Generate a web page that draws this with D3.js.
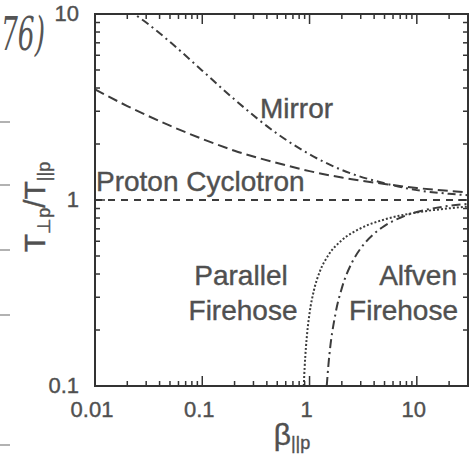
<!DOCTYPE html>
<html lang="en">
  <head>
    <meta charset="UTF-8" />
    <title>Proton temperature anisotropy thresholds</title>
    <script src="https://cdnjs.cloudflare.com/ajax/libs/d3/7.8.5/d3.min.js"></script>
    <style>
      body {
        margin: 0;
        background: #fff;
      }
      svg {
        display: block;
        font-family: "Liberation Sans", Arial, sans-serif;
      }
      .tick-label {
        fill: #505050;
        stroke: #505050;
        stroke-width: 0.4px;
        font-size: 22px;
      }
      .note {
        fill: #505050;
        stroke: #505050;
        stroke-width: 0.4px;
        font-size: 28px;
      }
      .title {
        fill: #505050;
        stroke: #505050;
        stroke-width: 0.4px;
      }
      .curve {
        fill: none;
        stroke: #3c3c3c;
        stroke-width: 2;
      }
    </style>
  </head>
  <body>
    <svg width="475" height="465"></svg>
    <script>
      // axis decades
      const xTickValues = [0.01, 0.1, 1, 10];
      const xTickLabels = ["0.01", "0.1", "1", "10"];
      const yTickValues = [0.1, 1, 10];
      const yTickLabels = ["0.1", "1", "10"];

      // curves (beta_par, T_perp / T_par)
      const cyclotronBeta = [0.01, 0.02, 0.05, 0.1, 0.2, 0.5, 1, 2, 5, 10, 20, 30];
      const cyclotronRatio = [3.93, 3.2, 2.51, 2.13, 1.84, 1.58, 1.43, 1.32, 1.22, 1.16, 1.12, 1.1];

      const mirrorBeta = [0.02, 0.03, 0.05, 0.1, 0.2, 0.5, 1, 2, 5, 10, 20, 30];
      const mirrorRatio = [10.6, 9.0, 7.08, 4.96, 3.47, 2.27, 1.76, 1.45, 1.23, 1.13, 1.08, 1.06];

      const parallelBeta = [0.883, 0.9, 0.95, 1, 1.1, 1.25, 1.5, 2, 3, 5, 10, 20, 30];
      const parallelRatio = [0.1, 0.126, 0.192, 0.246, 0.328, 0.414, 0.506, 0.608, 0.705, 0.786, 0.857, 0.902, 0.922];

      const alfvenBeta = [1.446, 1.5, 1.75, 2, 2.5, 3, 4, 5, 7, 10, 15, 20, 30];
      const alfvenRatio = [0.1, 0.13, 0.247, 0.336, 0.464, 0.55, 0.659, 0.726, 0.803, 0.862, 0.907, 0.93, 0.953];

      const isotropyBeta = [0.01, 30];
      const isotropyRatio = [1, 1];

      const svg = d3.select("svg");
      const plotLeft = 95, plotRight = 468, plotTop = 14, plotBottom = 386;

      const x = d3.scaleLog().domain([0.01, 30]).range([plotLeft, plotRight]);
      const y = d3.scaleLog().domain([0.1, 10]).range([plotBottom, plotTop]);

      // scan leftovers from the facing page
      svg.append("text")
        .attr("transform", "translate(1,50) scale(0.78,1.35)")
        .attr("fill", "#555")
        .attr("font-family", "DejaVu Serif")
        .attr("font-style", "italic")
        .attr("font-size", 34)
        .text("76)");
      [122, 185, 250, 315, 445].forEach(v => {
        svg.append("line")
          .attr("x1", 0).attr("x2", 10)
          .attr("y1", v).attr("y2", v)
          .attr("stroke", "#999")
          .attr("stroke-width", 1.5);
      });

      svg.append("clipPath").attr("id", "plot-clip")
        .append("rect")
        .attr("x", plotLeft).attr("y", plotTop)
        .attr("width", plotRight - plotLeft).attr("height", plotBottom - plotTop);

      const line = d3.line()
        .x(d => x(d[0]))
        .y(d => y(d[1]))
        .curve(d3.curveMonotoneX);

      const series = [
        { beta: isotropyBeta, ratio: isotropyRatio, dash: "7,6", width: 1.6 },
        { beta: cyclotronBeta, ratio: cyclotronRatio, dash: "10,5", width: 2 },
        { beta: mirrorBeta, ratio: mirrorRatio, dash: "8,4,2,4", width: 2 },
        { beta: parallelBeta, ratio: parallelRatio, dash: "2,2", width: 2.4 },
        { beta: alfvenBeta, ratio: alfvenRatio, dash: "9,4,2,4", width: 2 }
      ];

      const plot = svg.append("g").attr("clip-path", "url(#plot-clip)");
      series.forEach(s => {
        plot.append("path")
          .attr("class", "curve")
          .attr("stroke-dasharray", s.dash)
          .attr("stroke-width", s.width)
          .attr("d", line(s.beta.map((b, i) => [b, s.ratio[i]])));
      });

      // inward ticks on all four sides
      const isMajor = v => Math.abs(Math.log10(v) - Math.round(Math.log10(v))) < 1e-6;
      const ticks = svg.append("g").attr("stroke", "#333").attr("stroke-width", 1.5);
      x.ticks().forEach(v => {
        const len = isMajor(v) ? 10 : 5;
        ticks.append("line").attr("x1", x(v)).attr("x2", x(v)).attr("y1", plotBottom).attr("y2", plotBottom - len);
        ticks.append("line").attr("x1", x(v)).attr("x2", x(v)).attr("y1", plotTop).attr("y2", plotTop + len);
      });
      y.ticks().forEach(v => {
        const len = isMajor(v) ? 10 : 5;
        ticks.append("line").attr("y1", y(v)).attr("y2", y(v)).attr("x1", plotLeft).attr("x2", plotLeft + len);
        ticks.append("line").attr("y1", y(v)).attr("y2", y(v)).attr("x1", plotRight).attr("x2", plotRight - len);
      });

      svg.append("rect")
        .attr("x", plotLeft).attr("y", plotTop)
        .attr("width", plotRight - plotLeft).attr("height", plotBottom - plotTop)
        .attr("fill", "none")
        .attr("stroke", "#333")
        .attr("stroke-width", 2);

      // tick labels
      svg.selectAll(".xl")
        .data(xTickValues)
        .join("text")
        .attr("class", "tick-label")
        .attr("x", d => x(d) - 3)
        .attr("y", 417)
        .attr("text-anchor", "middle")
        .text((d, i) => xTickLabels[i]);

      svg.selectAll(".yl")
        .data(yTickValues)
        .join("text")
        .attr("class", "tick-label")
        .attr("x", 79)
        .attr("y", d => y(d) - 1)
        .attr("dy", "0.35em")
        .attr("text-anchor", "end")
        .text((d, i) => yTickLabels[i]);

      // axis titles
      const xTitle = svg.append("text")
        .attr("class", "title")
        .attr("x", 292)
        .attr("y", 445)
        .attr("text-anchor", "middle");
      xTitle.append("tspan").attr("font-size", 30).text("β");
      xTitle.append("tspan").attr("font-size", 18).attr("dy", 4).text("||p");

      const yTitle = svg.append("text")
        .attr("class", "title")
        .attr("transform", "translate(45,207) rotate(-90)")
        .attr("text-anchor", "middle");
      yTitle.append("tspan").attr("font-size", 30).text("T");
      yTitle.append("tspan").attr("font-size", 18).attr("dy", 5).text("⊥p");
      yTitle.append("tspan").attr("font-size", 30).attr("dy", -5).text("/T");
      yTitle.append("tspan").attr("font-size", 18).attr("dy", 5).text("||p");

      // curve names
      const notes = [
        { text: "Mirror", x: 260, y: 118, anchor: "start" },
        { text: "Proton Cyclotron", x: 96, y: 191, anchor: "start" },
        { text: "Parallel", x: 241, y: 285, anchor: "middle" },
        { text: "Firehose", x: 243, y: 320, anchor: "middle" },
        { text: "Alfven", x: 457, y: 285, anchor: "end" },
        { text: "Firehose", x: 458, y: 320, anchor: "end" }
      ];
      svg.selectAll(".note")
        .data(notes)
        .join("text")
        .attr("class", "note")
        .attr("x", d => d.x)
        .attr("y", d => d.y)
        .attr("text-anchor", d => d.anchor)
        .text(d => d.text);
    </script>
  </body>
</html>
